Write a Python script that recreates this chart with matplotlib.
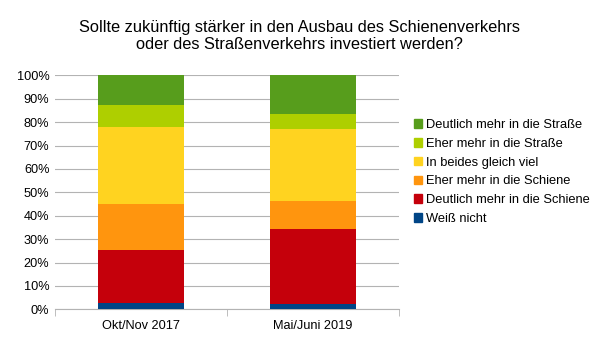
import matplotlib
matplotlib.use('Agg')
import matplotlib.pyplot as plt
from matplotlib.ticker import PercentFormatter
from matplotlib.patches import Patch

plt.rcParams['font.family'] = ['Liberation Sans', 'DejaVu Sans']

categories = ['Okt/Nov 2017', 'Mai/Juni 2019']
labels = ['Weiß nicht',
          'Deutlich mehr in die Schiene',
          'Eher mehr in die Schiene',
          'In beides gleich viel',
          'Eher mehr in die Straße',
          'Deutlich mehr in die Straße']
values = [
    [2.8, 2.4],
    [22.5, 31.9],
    [19.6, 11.9],
    [32.9, 30.9],
    [9.4, 6.4],
    [12.8, 16.5],
]
colors = ['#004586', '#c5000b', '#ff950e', '#ffd320', '#aecf00', '#579d1c']

fig = plt.figure(figsize=(6.05, 3.40), dpi=100)
ax = fig.add_axes([55 / 605, 1 - 309.3 / 340, 344 / 605, 234 / 340])

bottom = [0, 0]
for vals, col, lab in zip(values, colors, labels):
    ax.bar(range(len(categories)), vals, width=0.5, bottom=bottom, color=col,
           label=lab, zorder=3)
    bottom = [b + v for b, v in zip(bottom, vals)]

ax.set_xlim(-0.5, 1.5)
ax.set_ylim(0, 100)
ax.set_yticks(range(0, 101, 10))
ax.yaxis.set_major_formatter(PercentFormatter(decimals=0))
ax.set_xticks([0, 1])
ax.set_xticklabels(categories, fontsize=9.2)
ax.set_xticks([-0.5, 0.5, 1.5], minor=True)
ax.tick_params(axis='x', which='major', length=0, pad=8)
ax.tick_params(axis='x', which='minor', length=5, color='#b3b3b3')
ax.tick_params(axis='y', length=0, labelsize=9.2, pad=4)
ax.grid(axis='y', color='#b3b3b3', linewidth=0.8, zorder=0)
for s in ['top', 'right', 'left']:
    ax.spines[s].set_visible(False)
ax.spines['bottom'].set_color('#b3b3b3')

handles = [Patch(color=c, label=l) for c, l in zip(colors, labels)][::-1]
fig.legend(handles=handles, loc='center left', bbox_to_anchor=(402 / 605, 1 - 172 / 340),
           frameon=False, fontsize=9.3, handlelength=0.65, handleheight=0.65,
           handletextpad=0.3, labelspacing=0.52)

fig.text(0.495, 1 - 36 / 340, 'Sollte zukünftig stärker in den Ausbau des Schienenverkehrs\n'
         'oder des Straßenverkehrs investiert werden?',
         ha='center', va='center', fontsize=11.8, linespacing=1.2)

fig.savefig('out.png', dpi=100)
